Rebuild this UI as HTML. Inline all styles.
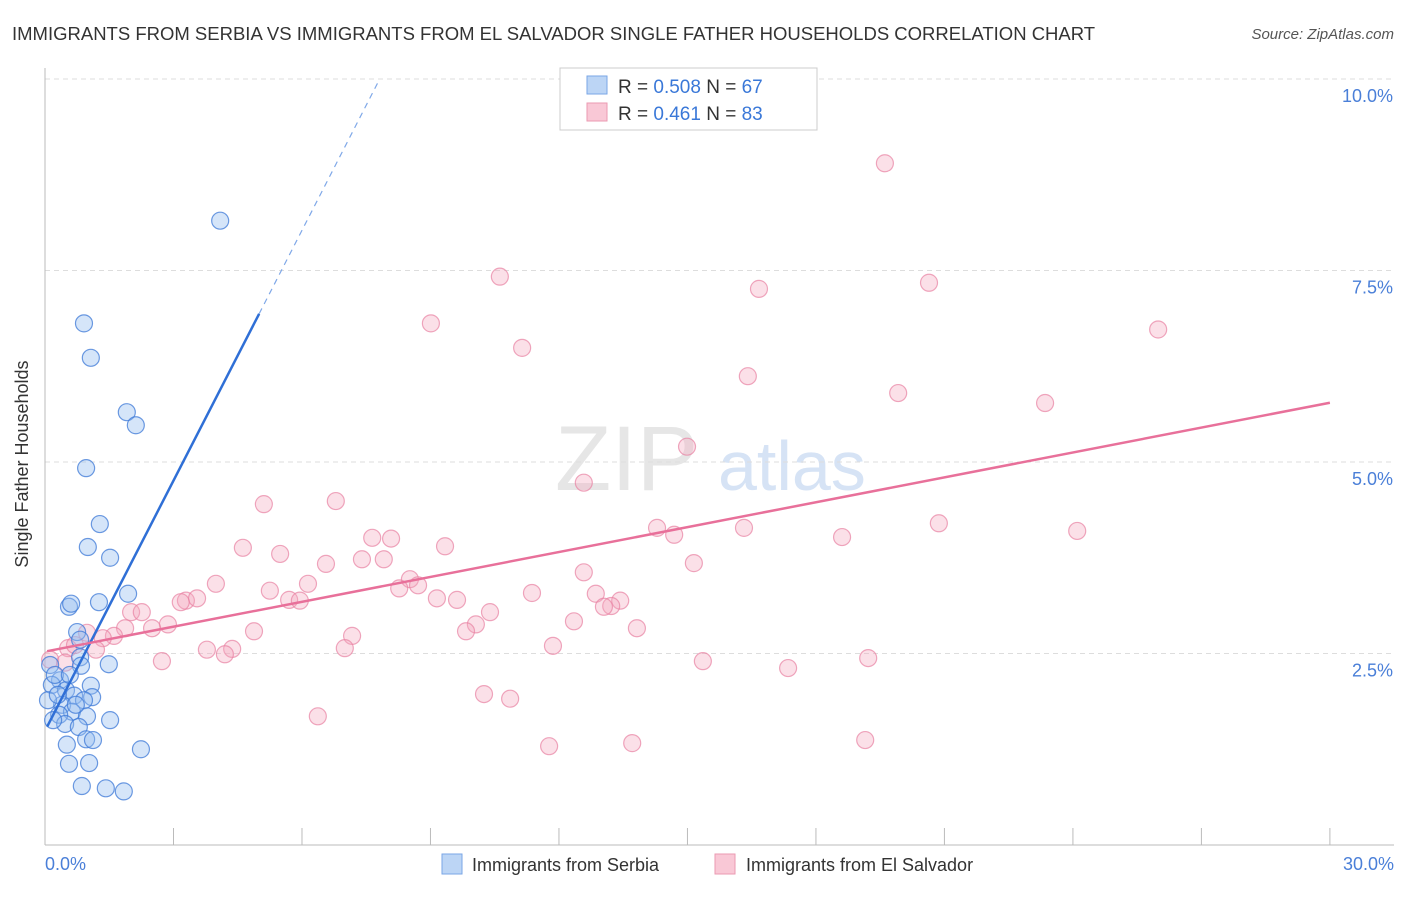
<!DOCTYPE html>
<html><head><meta charset="utf-8"><style>
body{margin:0;background:#fff;font-family:"Liberation Sans",sans-serif;}
svg text{font-family:"Liberation Sans",sans-serif;}
</style></head><body>
<svg id="chart" width="1406" height="892" viewBox="0 0 1406 892">
<text x="12" y="40" font-size="18.5" fill="#333">IMMIGRANTS FROM SERBIA VS IMMIGRANTS FROM EL SALVADOR SINGLE FATHER HOUSEHOLDS CORRELATION CHART</text>
<text x="1394" y="39" font-size="15" fill="#555" font-style="italic" text-anchor="end">Source: ZipAtlas.com</text>
<g><text x="555" y="490" font-size="92" fill="#e6e6e6" font-family="Liberation Serif">ZIP</text><text x="718" y="490" font-size="70" fill="#d6e3f5">atlas</text></g>
<g id="grid"></g>
<line x1="45" y1="68" x2="45" y2="845" stroke="#bbb"/>
<line x1="45" y1="845" x2="1394" y2="845" stroke="#bbb"/>
<g id="xticks"></g>
<text x="20" y="456" font-size="18" fill="#333" text-anchor="middle" transform="rotate(-90 28 456)">Single Father Households</text>
<text x="45" y="870" font-size="18" fill="#4a7fd8">0.0%</text>
<text x="1394" y="870" font-size="18" fill="#4a7fd8" text-anchor="end">30.0%</text>
<g id="pts"></g>
<g id="lines"></g>
<g>
<rect x="560" y="68" width="257" height="62" fill="#fff" stroke="#ccc"/>
<rect x="587" y="76" width="20" height="18" fill="#bcd5f5" stroke="#7aa6e6"/>
<rect x="587" y="103" width="20" height="18" fill="#f9c8d6" stroke="#eb9ab2"/>
<text x="618" y="93" font-size="19" fill="#333">R = <tspan fill="#3a78d8">0.508</tspan>   N = <tspan fill="#3a78d8">67</tspan></text>
<text x="618" y="120" font-size="19" fill="#333">R =  <tspan fill="#3a78d8">0.461</tspan>   N = <tspan fill="#3a78d8">83</tspan></text>
</g>
<g>
<rect x="442" y="854" width="20" height="20" fill="#bcd5f5" stroke="#7aa6e6"/>
<text x="472" y="871" font-size="18" fill="#333">Immigrants from Serbia</text>
<rect x="715" y="854" width="20" height="20" fill="#f9c8d6" stroke="#eb9ab2"/>
<text x="746" y="871" font-size="18" fill="#333">Immigrants from El Salvador</text>
</g>
</svg>
<script>
const yTicks=[2.5,5.0,7.5,10.0];
const xTickVals=[0,3,6,9,12,15,18,21,24,27,30];
const serbiaX=[4.09,0.91,1.07,1.91,2.12,0.96,1.28,1.00,1.52,1.94,1.26,0.56,0.61,0.75,0.82,0.82,1.49,0.84,0.12,0.35,0.16,0.49,0.68,1.07,1.10,0.91,0.40,0.63,0.33,0.98,1.52,0.47,0.79,0.96,1.12,0.51,2.24,0.56,1.03,0.86,1.42,1.84,0.23,0.07,0.30,0.58,0.72,0.19];
const serbiaY=[8.15,6.81,6.36,5.65,5.48,4.92,4.19,3.89,3.75,3.28,3.17,3.11,3.15,2.78,2.68,2.45,2.36,2.34,2.35,2.15,2.09,2.02,1.95,2.08,1.93,1.89,1.83,1.74,1.70,1.68,1.63,1.58,1.54,1.38,1.37,1.31,1.25,1.06,1.07,0.77,0.74,0.70,2.22,1.89,1.96,2.22,1.83,1.63];
const salvX=[19.61,10.62,16.67,20.64,9.01,25.99,11.14,16.41,19.92,23.35,14.99,12.58,5.11,6.79,14.29,16.32,14.69,20.87,18.61,24.10,4.62,5.49,7.64,8.08,9.34,6.56,7.40,7.91,15.15,12.58,3.99,6.14,8.52,8.71,8.27,5.25,11.37,12.86,13.43,13.22,13.05,3.29,3.55,3.17,5.70,5.95,9.15,9.62,10.39,2.01,2.26,2.87,2.50,1.87,12.35,10.06,9.83,13.82,4.88,7.17,1.61,1.35,0.98,7.00,3.78,4.37,4.20,11.86,1.19,0.54,2.73,15.36,17.35,19.22,10.25,10.86,6.37,11.77,13.71,19.15,0.12,0.70,0.47];
const salvY=[8.90,7.42,7.26,7.34,6.81,6.73,6.49,6.12,5.90,5.77,5.20,4.73,4.45,4.49,4.14,4.14,4.05,4.20,4.02,4.10,3.88,3.80,4.01,4.00,3.90,3.67,3.73,3.73,3.68,3.56,3.41,3.41,3.47,3.39,3.35,3.32,3.29,3.28,3.19,3.12,3.11,3.19,3.22,3.17,3.20,3.19,3.22,3.20,3.04,3.04,3.04,2.88,2.83,2.83,2.92,2.88,2.79,2.83,2.79,2.73,2.73,2.70,2.77,2.57,2.55,2.56,2.49,2.60,2.55,2.57,2.40,2.40,2.31,2.44,1.97,1.91,1.68,1.29,1.33,1.37,2.42,2.61,2.38];
const serbiaLine=[1.49,1.089]; // intercept, slope
const salvLine=[2.525,0.1083];
const NS="http://www.w3.org/2000/svg";
const sx=v=>45+v*42.83, sy=v=>845-v*76.6;
function mk(tag,attrs,parent){const e=document.createElementNS(NS,tag);for(const k in attrs)e.setAttribute(k,attrs[k]);parent.appendChild(e);return e;}
const grid=document.getElementById('grid');
yTicks.forEach(t=>{
 const l=mk('line',{x1:45,x2:1394,y1:sy(t),y2:sy(t),stroke:'#ddd','stroke-dasharray':'5,4'},grid);
 
 
 const tx=mk('text',{x:1393,y:sy(t)+23,'font-size':18,fill:'#4a7fd8','text-anchor':'end'},grid);
 tx.textContent=t.toFixed(1)+'%';
 
 
});
const xt=document.getElementById('xticks');
xTickVals.forEach(t=>{
 const l=mk('line',{x1:sx(t),x2:sx(t),y1:828,y2:845,stroke:'#bbb'},xt);
 
 
});
const pts=document.getElementById('pts');
salvX.forEach((x,i)=>{
 const c=mk('circle',{cx:sx(x),cy:sy(salvY[i]),r:8.5,fill:'rgba(244,166,190,0.35)',stroke:'rgba(232,130,162,0.7)','stroke-width':1.2},pts);
 
 
});
serbiaX.forEach((x,i)=>{
 const c=mk('circle',{cx:sx(x),cy:sy(serbiaY[i]),r:8.5,fill:'rgba(150,190,240,0.4)',stroke:'rgba(60,120,215,0.75)','stroke-width':1.2},pts);
 
 
});
const ln=document.getElementById('lines');
const f=(p,x)=>p[0]+p[1]*x;
let a=mk('line',{x1:sx(0.05),y1:sy(f(serbiaLine,0.05)),x2:sx(5.0),y2:sy(f(serbiaLine,5.0)),stroke:'#2f6fd6','stroke-width':2.5},ln);


const xEnd=(10.0-serbiaLine[0])/serbiaLine[1];
let b=mk('line',{x1:sx(5.0),y1:sy(f(serbiaLine,5.0)),x2:sx(xEnd),y2:sy(10.0),stroke:'#7fa8e8','stroke-width':1.2,'stroke-dasharray':'6,5'},ln);


let c=mk('line',{x1:sx(0.05),y1:sy(f(salvLine,0.05)),x2:sx(30),y2:sy(f(salvLine,30)),stroke:'#e8709a','stroke-width':2.5},ln);


</script>
</body></html>
